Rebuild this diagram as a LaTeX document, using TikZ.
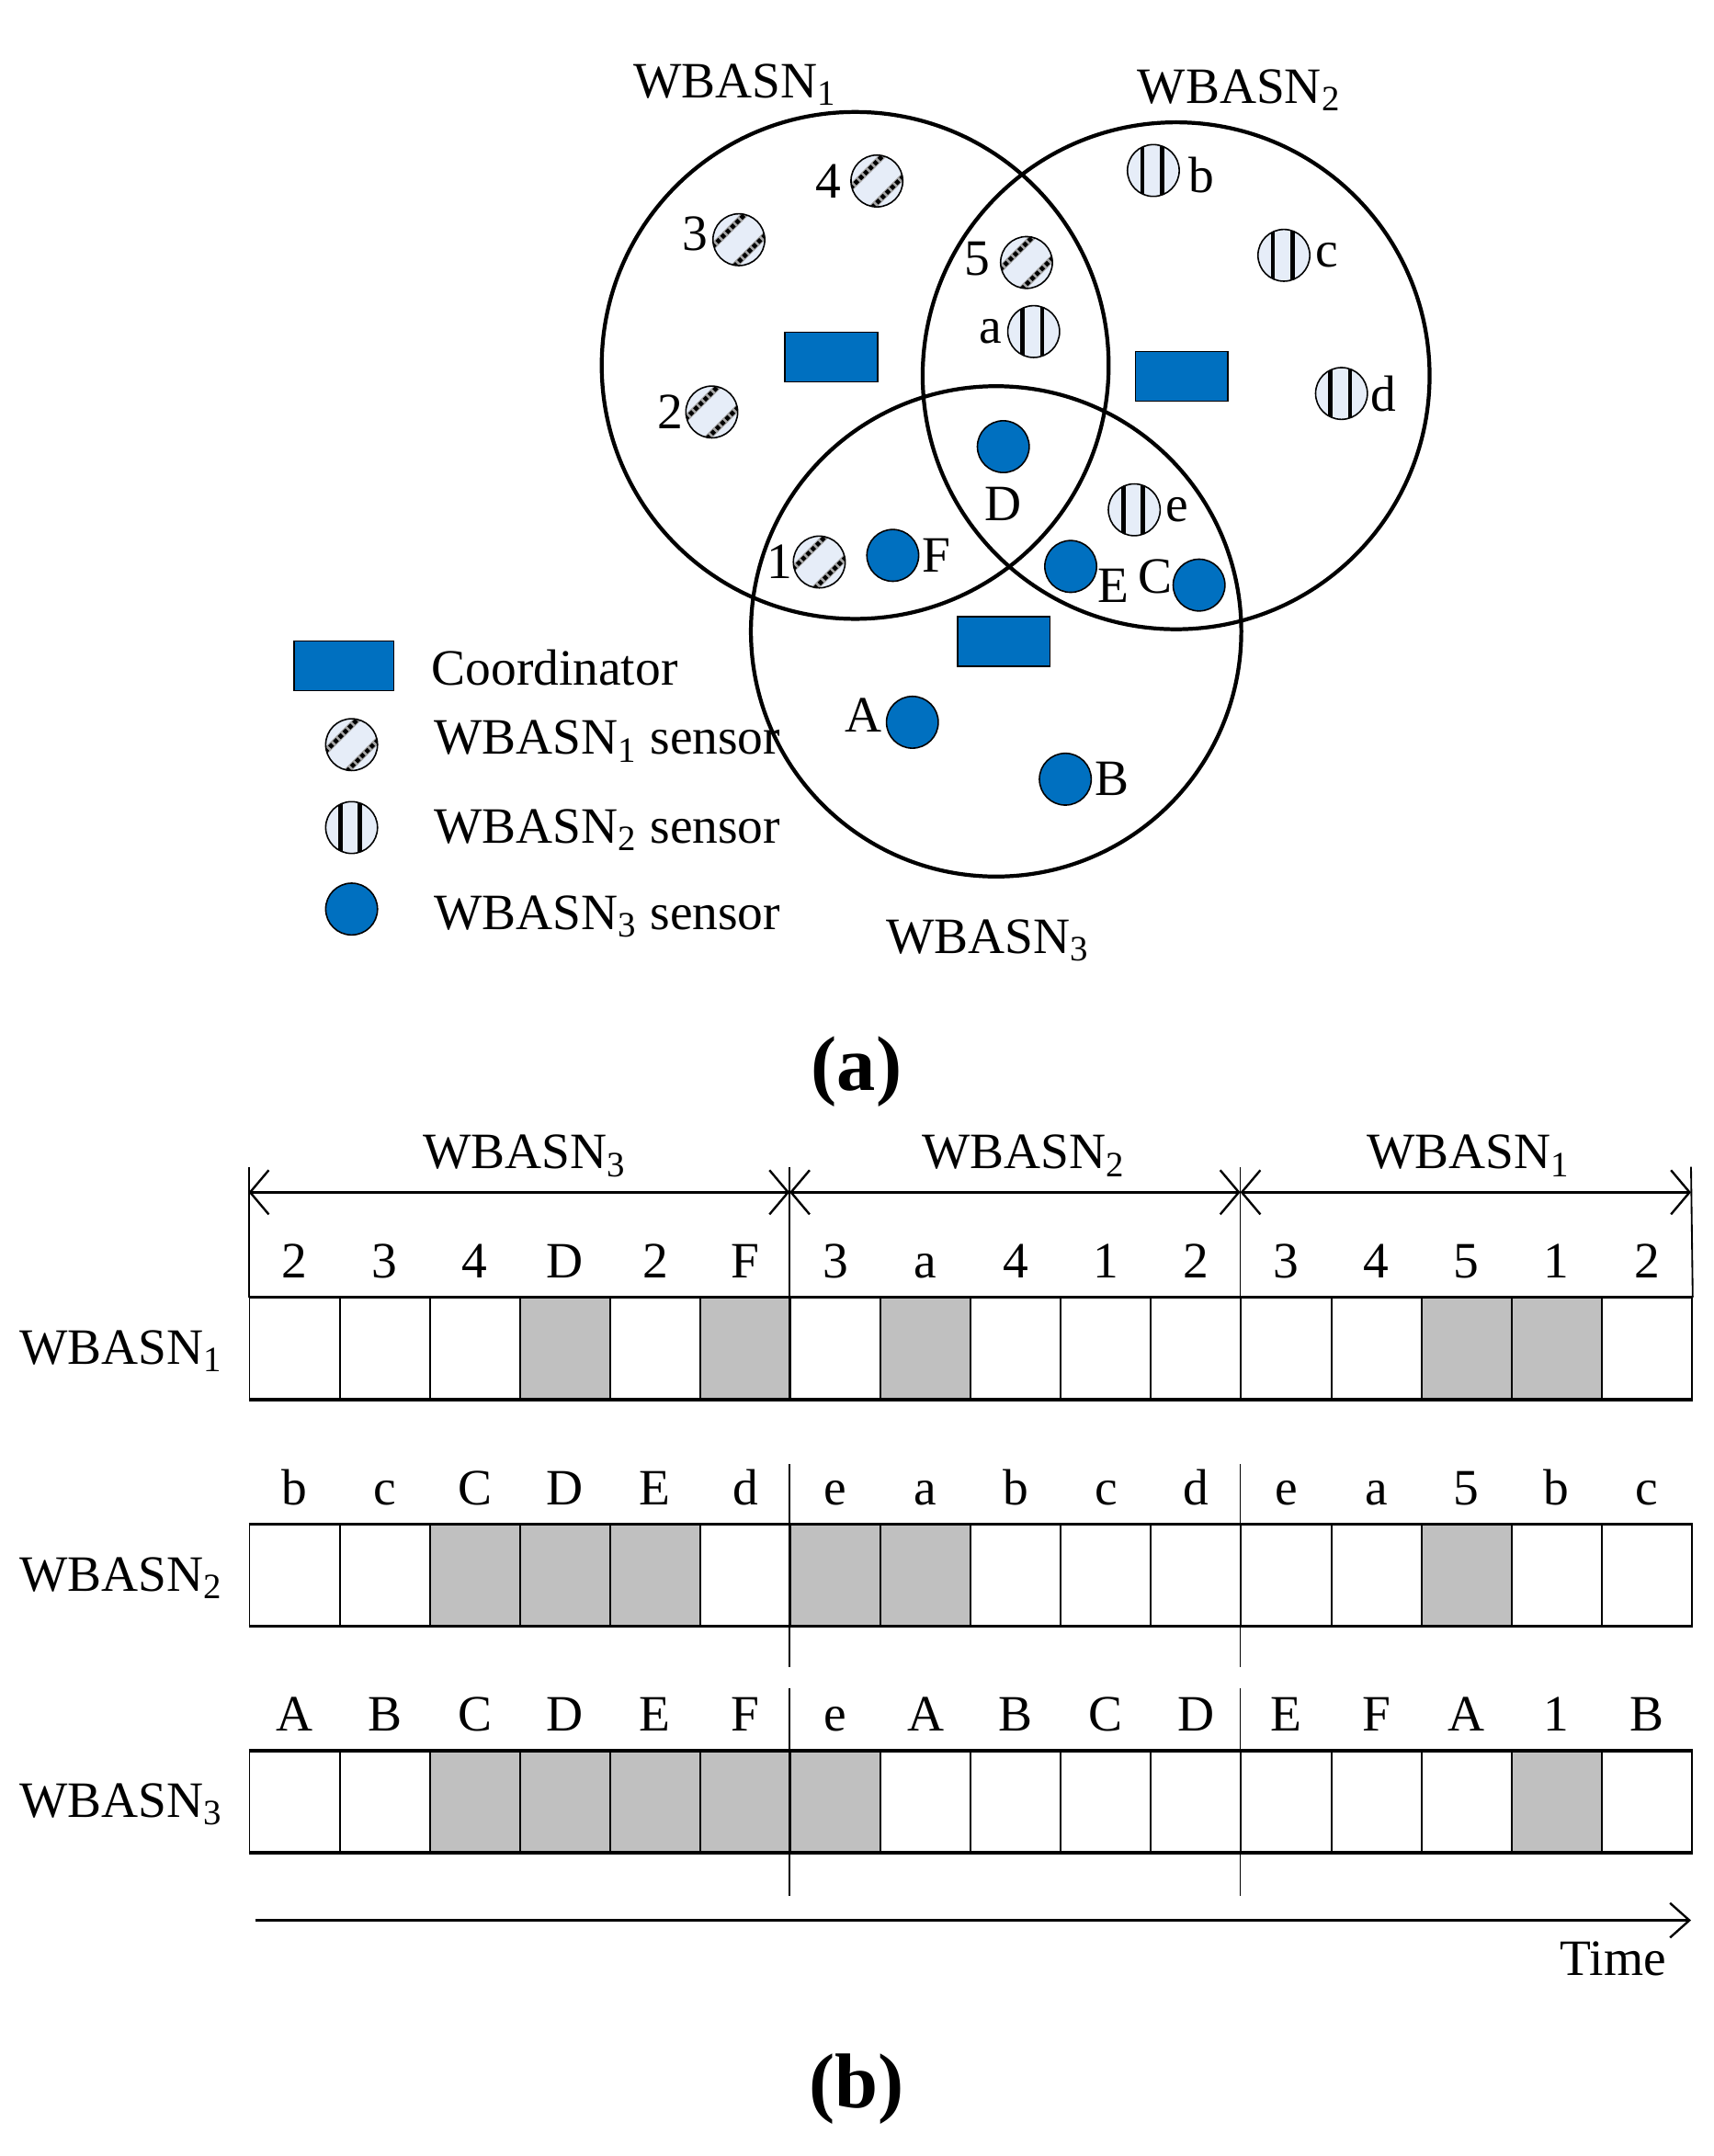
\documentclass[tikz,border=0pt]{standalone}
\usepackage{fontspec}
\setmainfont{Liberation Serif}
\usetikzlibrary{positioning,arrows.meta}
\definecolor{nodeblue}{RGB}{0,112,192}
\definecolor{sensorfill}{RGB}{230,237,248}
\definecolor{busy}{RGB}{192,192,192}
\colorlet{idle}{white}
\newcommand{\wbasn}[1]{WBASN\textsubscript{#1}}
\tikzset{
  txt/.style={font=\fontsize{21}{25}\selectfont,inner sep=0pt},
  caption/.style={font=\fontsize{32}{36}\selectfont\bfseries,inner sep=0pt},
  network/.style={circle,draw,line width=1.6pt,minimum size=#1,inner sep=0pt},
  coordbox/.style={rectangle,draw,fill=nodeblue,line width=0.6pt,minimum width=1.34cm,minimum height=0.72cm,inner sep=0pt},
  sensorbase/.style={circle,draw,line width=0.6pt,minimum size=0.75cm,inner sep=0pt},
  hatched/.style={sensorbase,fill=sensorfill,path picture={
    \draw[black!35,line width=2.6pt,shift={(path picture bounding box.center)}]
      (-15pt,-7pt)--(8pt,16pt) (-6pt,-15pt)--(15pt,6pt);
    \draw[line width=1.8pt,dash pattern=on 1.7pt off 1.1pt,shift={(path picture bounding box.center)}]
      (-15pt,-7pt)--(8pt,16pt) (-6pt,-15pt)--(15pt,6pt);}},
  striped/.style={sensorbase,fill=sensorfill,path picture={
    \draw[line width=1.8pt,shift={(path picture bounding box.center)}]
      (-4.5pt,-12pt)--(-4.5pt,12pt) (3.5pt,-12pt)--(3.5pt,12pt);}},
  member/.style={sensorbase,fill=nodeblue},
  slot/.style={rectangle,draw,line width=0.7pt,minimum width=1.305cm,minimum height=1.46cm,inner sep=0pt,anchor=north west},
  rowedge/.style={line width=1.2pt},
  sepline/.style={line width=0.7pt},
  dimline/.style={line width=0.9pt,{Straight Barb[length=2.7mm,width=6.4mm]}-{Straight Barb[length=2.7mm,width=6.4mm]}},
  timeline/.style={line width=0.9pt,-{Straight Barb[length=2.8mm,width=5mm]}}
}
\begin{document}
\begin{tikzpicture}[x=0.02cm,y=-0.02cm]
\useasboundingbox (0,0) rectangle (1240,1560.6);
% (a) three overlapping networks
\node[network=7.34cm] (wban1) at (619,264.5) {};
\node[network=7.34cm] (wban2) at (851.3,272) {};
\node[network=7.1cm] (wban3) at (721,457) {};
\node[txt,anchor=base west] (lab1) at (458,71) {\wbasn{1}};
\node[txt,anchor=base west] (lab2) at (823,75) {\wbasn{2}};
\node[txt,anchor=base west] (lab3) at (641,690) {\wbasn{3}};
\node[coordbox] (coord1) at (601.7,258.5) {};
\node[coordbox] (coord2) at (855.3,272.3) {};
\node[coordbox] (coord3) at (726.6,464.4) {};
% sensors
\node[hatched] (s4) at (634.7,131) {};
\node[hatched] (s3) at (534.8,173.5) {};
\node[hatched] (s5) at (743,190) {};
\node[hatched] (s2) at (515.2,298.2) {};
\node[hatched] (s1) at (593,406.8) {};
\node[striped] (sa) at (748.2,240) {};
\node[striped] (sb) at (834.8,123.4) {};
\node[striped] (sc) at (929.3,184.8) {};
\node[striped] (sd) at (971,284.8) {};
\node[striped] (se) at (821,369) {};
\node[member] (sF) at (646.2,402) {};
\node[member] (sD) at (726.2,323.3) {};
\node[member] (sE) at (775,410) {};
\node[member] (sC) at (867.9,423.5) {};
\node[member] (sA) at (660.4,522.8) {};
\node[member] (sB) at (771.1,564) {};
\node[txt,left=3.5pt of s4] (t4) {4};
\node[txt,left=1.5pt of s3,yshift=2.5pt] (t3) {3};
\node[txt,left=4pt of s5,yshift=1.5pt] (t5) {5};
\node[txt,left=2pt of sa] (ta) {a};
\node[txt,left=0.5pt of s2] (t2) {2};
\node[txt,left=0pt of s1] (t1) {1};
\node[txt,right=1pt of sF] (tF) {F};
\node[txt,below=5.5pt of sD] (tD) {D};
\node[txt,right=2pt of se] (te) {e};
\node[txt,anchor=north west] (tE) at ([xshift=0pt,yshift=-1pt]sE.east) {E};
\node[txt,left=0pt of sC,yshift=3.5pt] (tC) {C};
\node[txt,right=3.5pt of sb,yshift=-2pt] (tb) {b};
\node[txt,right=2pt of sc] (tc) {c};
\node[txt,right=1pt of sd] (td) {d};
\node[txt,left=1.5pt of sA,yshift=3pt] (tA) {A};
\node[txt,right=1pt of sB] (tB) {B};
% legend
\node[coordbox,minimum width=1.44cm] (legcoord) at (249,482) {};
\node[hatched] (leg1) at (254.5,539) {};
\node[striped] (leg2) at (254.5,599) {};
\node[member] (leg3) at (254.5,658) {};
\node[txt,anchor=base west] (legcoordt) at (312,496) {Coordinator};
\node[txt,anchor=base west] (leg1t) at (314,546) {\wbasn{1} sensor};
\node[txt,anchor=base west] (leg2t) at (314,610) {\wbasn{2} sensor};
\node[txt,anchor=base west] (leg3t) at (314,673) {\wbasn{3} sensor};
\node[caption] (capa) at (620,776) {(a)};
% (b) slot schedule
\foreach \lab/\st [count=\i] in {2/idle,3/idle,4/idle,D/busy,2/idle,F/busy,3/idle,a/busy,4/idle,1/idle,2/idle,3/idle,4/idle,5/busy,1/busy,2/idle}{
  \node[slot,fill=\st] (r1c\i) at ({180+(\i-1)*65.25},939) {};
  \node[txt,anchor=base] (r1l\i) at ([yshift=8pt]r1c\i.north) {\lab};
}
\foreach \lab/\st [count=\i] in {b/idle,c/idle,C/busy,D/busy,E/busy,d/idle,e/busy,a/busy,b/idle,c/idle,d/idle,e/idle,a/idle,5/busy,b/idle,c/idle}{
  \node[slot,fill=\st] (r2c\i) at ({180+(\i-1)*65.25},1103) {};
  \node[txt,anchor=base] (r2l\i) at ([yshift=8pt]r2c\i.north) {\lab};
}
\foreach \lab/\st [count=\i] in {A/idle,B/idle,C/busy,D/busy,E/busy,F/busy,e/busy,A/idle,B/idle,C/idle,D/idle,E/idle,F/idle,A/idle,1/busy,B/idle}{
  \node[slot,fill=\st] (r3c\i) at ({180+(\i-1)*65.25},1267) {};
  \node[txt,anchor=base] (r3l\i) at ([yshift=8pt]r3c\i.north) {\lab};
}
\foreach \r in {1,2,3}{
  \draw[rowedge] (r\r c1.north west) -- (r\r c16.north east) (r\r c1.south west) -- (r\r c16.south east);
}
\node[txt,anchor=base west] (row1) at (14,987.5) {\wbasn{1}};
\node[txt,anchor=base west] (row2) at (14,1151.5) {\wbasn{2}};
\node[txt,anchor=base west] (row3) at (14,1315.5) {\wbasn{3}};
% superframe dimension
\coordinate (d0) at (180,863);
\coordinate (d1) at (571.5,863);
\coordinate (d2) at (897.75,863);
\coordinate (d3) at (1224,863);
\draw[dimline] (d0) -- (d1);
\draw[dimline] (d1) -- (d2);
\draw[dimline] (d2) -- (d3);
\draw[sepline] (r1c1.north west) -- (180,844.5);
\draw[sepline] (r1c16.north east) -- (1224,844.5);
\foreach \x in {571.5,897.75}{
  \draw[sepline] (\x,844.5) -- (\x,1012) (\x,1060) -- (\x,1207) (\x,1222) -- (\x,1372);
}
\node[txt,anchor=base west] (dim3) at (306,846) {\wbasn{3}};
\node[txt,anchor=base west] (dim2) at (667,846) {\wbasn{2}};
\node[txt,anchor=base west] (dim1) at (989,846) {\wbasn{1}};
% time axis
\coordinate (t0) at (185,1390);
\coordinate (t1) at (1224,1390);
\draw[timeline] (t0) -- (t1);
\node[txt,anchor=base west] (time) at (1129,1430) {Time};
\node[caption] (capb) at (620,1512) {(b)};
\end{tikzpicture}
\end{document}
